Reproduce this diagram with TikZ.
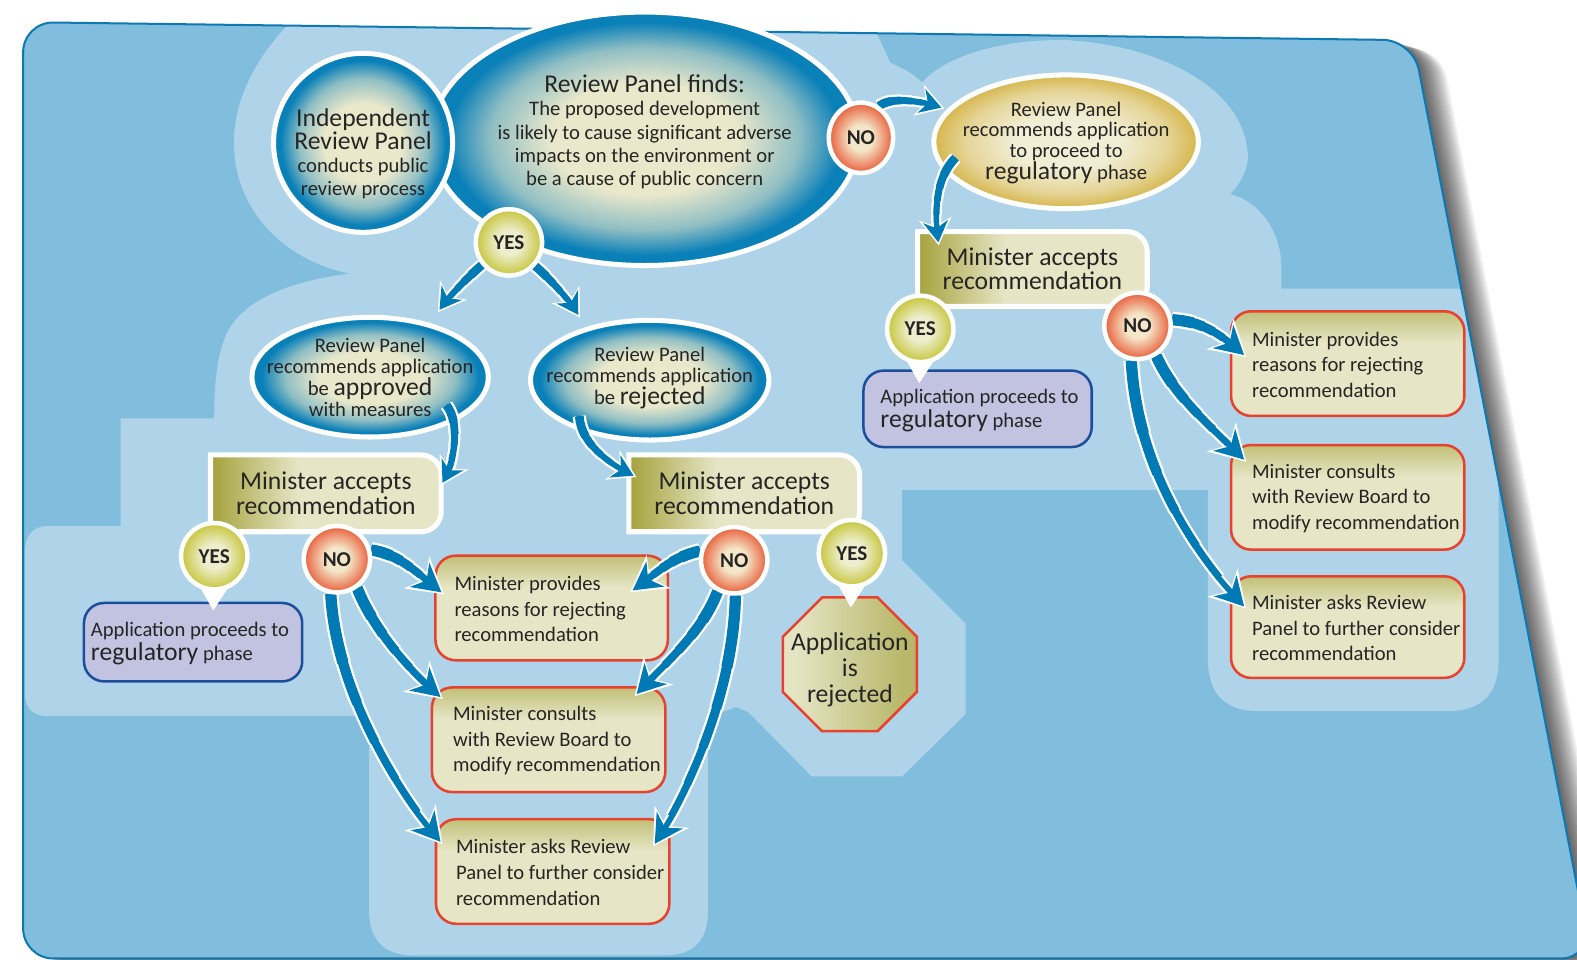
\documentclass[tikz,border=0pt]{standalone}
\usepackage{fontspec}
\setmainfont{Carlito}
\usetikzlibrary{shapes.geometric,arrows.meta,calc}
\newcommand\fsz[2]{\fontsize{#1}{#2}\selectfont}
\definecolor{panelblue}{HTML}{81BDDD}
\definecolor{lightblue}{HTML}{AFD4E9}
\definecolor{borderblue}{HTML}{0E78B2}
\definecolor{arrowblue}{HTML}{007AB4}
\definecolor{txtc}{HTML}{262524}
\definecolor{creamc}{HTML}{E6E5C5}
\definecolor{ballcream}{HTML}{E9E8CB}
\definecolor{blueedge}{HTML}{0A80B8}
\colorlet{bluemid}{blueedge!40!ballcream}
\definecolor{goldedge}{HTML}{D6B64C}
\definecolor{goldcream}{HTML}{F1EED5}
\colorlet{goldmid}{goldedge!45!goldcream}
\definecolor{yesedge}{HTML}{C6C53A}
\definecolor{yescream}{HTML}{EEEECF}
\definecolor{noedge}{HTML}{E85E3A}
\definecolor{nocream}{HTML}{F4E7C9}
\definecolor{oliveL}{HTML}{A5A23C}
\definecolor{oliveT}{HTML}{C1C078}
\definecolor{octL}{HTML}{E4E4C3}
\definecolor{octR}{HTML}{B8B76A}
\definecolor{redc}{HTML}{E8412D}
\definecolor{purpF}{HTML}{C1C3E0}
\definecolor{purpB}{HTML}{1D4E9C}
\pgfdeclareradialshading{blueball}{\pgfpoint{0bp}{0bp}}{color(0bp)=(ballcream); color(11bp)=(ballcream); color(18bp)=(bluemid); color(23bp)=(blueedge); color(25bp)=(blueedge); color(50bp)=(blueedge)}
\pgfdeclareradialshading{goldball}{\pgfpoint{0bp}{0bp}}{color(0bp)=(goldcream); color(10bp)=(goldcream); color(19bp)=(goldmid); color(25bp)=(goldedge); color(50bp)=(goldedge)}
\pgfdeclareradialshading{yesball}{\pgfpoint{0bp}{0bp}}{color(0bp)=(yescream); color(9bp)=(yescream); color(25bp)=(yesedge); color(50bp)=(yesedge)}
\pgfdeclareradialshading{noball}{\pgfpoint{0bp}{0bp}}{color(0bp)=(nocream); color(9bp)=(nocream); color(25bp)=(noedge); color(50bp)=(noedge)}
\pgfdeclarehorizontalshading{minacc}{100bp}{color(0bp)=(oliveL); color(25bp)=(oliveL); color(44bp)=(creamc); color(100bp)=(creamc)}
\pgfdeclareverticalshading{redsh}{100bp}{color(0bp)=(creamc); color(60bp)=(creamc); color(75bp)=(oliveT); color(100bp)=(oliveT)}
\pgfdeclarehorizontalshading{octsh}{100bp}{color(0bp)=(octL); color(30bp)=(octL); color(70bp)=(octR); color(100bp)=(octR)}
\pgfdeclarelayer{back}
\pgfdeclarelayer{shapes}
\pgfdeclarelayer{top}
\pgfsetlayers{back,shapes,main,top}
\newcommand\panelpath{(23,953) -- (23,22) -- (1405,40) -- (1582,953) -- cycle}
\newcommand\maShape[1]{\path[mashape] (#1.south west) -- (#1.north west) -- ($(#1.north east)+(-20,0)$) .. controls ($(#1.north east)+(-9,0)$) and ($(#1.north east)+(0,9)$) .. ($(#1.north east)+(0,20)$) -- ($(#1.south east)+(0,-20)$) .. controls ($(#1.south east)+(0,-9)$) and ($(#1.south east)+(-9,0)$) .. ($(#1.south east)+(-20,0)$) -- cycle;}
\newcommand\tail[1]{\fill[white] ($(#1.center)+(-14,31)$) -- ($(#1.center)+(14,31)$) -- ($(#1.center)+(-1,54)$) -- cycle;}
% tapered arrow: first part of the curve up to parameter #1, drawn in colour #2 with width factor #3 plus #4
\newcommand\tseg[4]{%
  \pgfmathsetmacro\ua{1-#1}%
  \pgfmathsetmacro\fa{\ua*\ua}\pgfmathsetmacro\fb{2*#1*\ua}\pgfmathsetmacro\fc{#1*#1}%
  \pgfmathsetmacro\ga{\ua*\ua*\ua}\pgfmathsetmacro\gb{3*#1*\ua*\ua}\pgfmathsetmacro\gc{3*#1*#1*\ua}\pgfmathsetmacro\gd{#1*#1*#1}%
  \coordinate (Q1) at ($(P0)!#1!(P1)$);
  \coordinate (Q2) at ($\fa*(P0)+\fb*(P1)+\fc*(P2)$);
  \coordinate (Q3) at ($\ga*(P0)+\gb*(P1)+\gc*(P2)+\gd*(P3)$);
  \pgfmathsetmacro\lw{\tbase*#3+#4}%
  \draw[#2, line width=\lw pt, line cap=butt] (P0) .. controls (Q1) and (Q2) .. (Q3);}
\newcommand\tsteps{0.85/1.2,0.7/1.4,0.55/1.6,0.4/1.8,0.25/2.0}
\newcommand\tarrow[5]{%
  \coordinate (P0) at #1; \coordinate (P3) at #4;
  \coordinate (P1) at ($(P0)+#2$); \coordinate (P2) at ($(P3)+#3$);
  \pgfmathsetmacro\lwf{\tbase+4.5}%
  \draw[flowbg#5, line width=\lwf pt] (P0) .. controls (P1) and (P2) .. (P3);
  \foreach \t/\w in \tsteps {\tseg{\t}{white}{\w}{4.5}}
  \draw[flow#5, line width=\tbase pt] (P0) .. controls (P1) and (P2) .. (P3);
  \foreach \t/\w in \tsteps {\tseg{\t}{arrowblue}{\w}{0}}}
\newcommand\bigarrow[4]{\def\tbase{5.6}\tarrow{#1}{#2}{#3}{#4}{B}}
\newcommand\smallarrow[4]{\def\tbase{4.3}\tarrow{#1}{#2}{#3}{#4}{S}}
\begin{document}
\begin{tikzpicture}[x=1pt,y=-1pt,
  lbl/.style={inner sep=0pt, align=center, text=txtc, font=\fsz{20.5}{23}},
  lblL/.style={lbl, align=left, anchor=west},
  ballB/.style={ellipse, draw=white, line width=5pt, inner sep=0pt, shade, shading=blueball},
  ballG/.style={ellipse, draw=white, line width=5pt, inner sep=0pt, shade, shading=goldball},
  yesn/.style={circle, draw=white, line width=4.5pt, inner sep=0pt, minimum size=66pt, shade, shading=yesball, text=txtc, font=\fsz{21}{21}\bfseries},
  non/.style={circle, draw=white, line width=4.5pt, inner sep=0pt, minimum size=66pt, shade, shading=noball, text=txtc, font=\fsz{21}{21}\bfseries},
  mabox/.style={rectangle, inner sep=0pt, align=center, text=txtc, font=\fsz{25.5}{24}, minimum width=229pt, minimum height=76pt},
  mashape/.style={draw=white, line width=5pt, shade, shading=minacc},
  redbox/.style={rectangle, rounded corners=20pt, draw=redc, line width=2.5pt, inner sep=0pt, shade, shading=redsh, minimum width=232pt, minimum height=104pt},
  purp/.style={rectangle, rounded corners=20pt, draw=purpB, line width=2.5pt, inner sep=0pt, fill=purpF},
  octo/.style={regular polygon, regular polygon sides=8, draw=redc, line width=2.5pt, inner sep=0pt, minimum size=144pt, shade, shading=octsh},
  flowB/.style={draw=arrowblue, -{Stealth[length=28pt,width=31pt,inset=9pt,line width=0pt]}},
  flowbgB/.style={draw=white, shorten >=-3pt, -{Stealth[length=35pt,width=41pt,inset=11pt,line width=0pt]}},
  flowS/.style={draw=arrowblue, -{Stealth[length=21pt,width=25pt,inset=7pt,line width=0pt]}},
  flowbgS/.style={draw=white, shorten >=-3pt, -{Stealth[length=27pt,width=33pt,inset=8pt,line width=0pt]}}
]
\useasboundingbox (0,0) rectangle (1568,954);
\begin{pgfonlayer}{back}
\fill[white] (0,0) rectangle (1568,954);
\foreach \k in {1,...,14}{\fill[black, opacity=0.06, rounded corners=30pt, shift={(2*\k,0.6*\k)}] \panelpath;}
\fill[panelblue, rounded corners=30pt] \panelpath;
\begin{scope}
\clip[rounded corners=30pt] \panelpath;
\fill[lightblue] (306,5) .. controls (245,60) and (222,120) .. (237,175)
 .. controls (250,225) and (295,262) .. (348,272)
 .. controls (285,280) and (238,300) .. (224,335)
 .. controls (214,360) and (213,390) .. (213,416)
 -- (120,416) -- (120,523)
 -- (48,523) .. controls (33,523) and (25,532) .. (25,547)
 -- (25,690) .. controls (25,705) and (33,712) .. (48,712)
 -- (367,712) -- (367,905) .. controls (367,935) and (382,950) .. (412,950)
 -- (660,950) .. controls (690,950) and (704,935) .. (704,905)
 -- (704,713) -- (732,703) -- (744,708) -- (807,772) -- (897,772) -- (960,710) -- (960,620) -- (897,557) -- (897,487)
 -- (1201,487) -- (1201,655) .. controls (1201,690) and (1218,707) .. (1251,707)
 -- (1440,707) .. controls (1473,707) and (1490,690) .. (1490,657)
 -- (1490,330) .. controls (1490,302) and (1475,287) .. (1447,287)
 -- (1274,287) -- (1274,262) .. controls (1272,228) and (1252,200) .. (1223,193)
 .. controls (1238,178) and (1243,160) .. (1240,147)
 .. controls (1232,85) and (1150,45) .. (1062,40)
 .. controls (1000,38) and (940,55) .. (917,82)
 .. controls (905,70) and (892,66) .. (885,62)
 -- (859,5) -- cycle;
\end{scope}
\draw[borderblue, line width=2pt, rounded corners=30pt] \panelpath;
\end{pgfonlayer}

% ellipses and circles with text
\node[ballB, minimum width=426pt, minimum height=252pt] (find) at (641,138) {};
\node[lbl] (findT) at (641,131) {{\fsz{25.5}{23}Review Panel finds:}\\The proposed development\\is likely to cause significant adverse\\impacts on the environment or\\be a cause of public concern};
\node[ballB, circle, minimum size=178pt] (ind) at (361,142) {};
\node[lbl] (indT) at (361,153) {{\fsz{25.5}{26}Independent}\\{\fsz{25.5}{26}Review Panel}\\conducts public\\review process};
\node[ballG, minimum width=263pt, minimum height=133pt] (yel) at (1060,141) {};
\node[lbl, font=\fsz{20.5}{20.5}] (yelT) at (1060,142) {Review Panel\\recommends application\\to proceed to\\{\fsz{25.5}{23}regulatory} phase};
\node[ballB, minimum width=235pt, minimum height=119pt] (apr) at (368,375) {};
\node[lbl, font=\fsz{20.5}{21}] (aprT) at (368,375) {Review Panel\\recommends application\\be {\fsz{25.5}{21}approved}\\with measures};
\node[ballB, minimum width=237pt, minimum height=119pt] (rej) at (646,378) {};
\node[lbl, font=\fsz{20.5}{21}] (rejT) at (646,376) {Review Panel\\recommends application\\be {\fsz{25.5}{21}rejected}};

% minister accepts boxes
\node[mabox] (ma1) at (324,490.5) {Minister accepts\\recommendation};
\node[mabox] (ma2) at (740,490.5) {Minister accepts\\recommendation};
\node[mabox, minimum width=228pt, minimum height=74pt] (ma3) at (1026.5,267.5) {Minister accepts\\recommendation};
\begin{pgfonlayer}{shapes}
\maShape{ma1}
\maShape{ma2}
\maShape{ma3}
\end{pgfonlayer}

% purple boxes
\node[purp, minimum width=217pt, minimum height=78pt] (pb1) at (192,638.5) {};
\node[lblL, font=\fsz{20.5}{24}] (pb1T) at ($(pb1.west)+(8,1)$) {Application proceeds to\\{\fsz{25.5}{24}regulatory} phase};
\node[purp, minimum width=227pt, minimum height=76pt] (pb2) at (972,406.5) {};
\node[lblL, font=\fsz{20.5}{24}] (pb2T) at ($(pb2.west)+(18,2)$) {Application proceeds to\\{\fsz{25.5}{24}regulatory} phase};

% red boxes
\node[redbox, minimum width=231pt] (mb1) at (548.5,604.5) {};
\node[lblL, font=\fsz{20.5}{25.5}] (mb1T) at ($(mb1.west)+(20,1)$) {Minister provides\\reasons for rejecting\\recommendation};
\node[redbox] (mb2) at (545.5,735.5) {};
\node[lblL, font=\fsz{20.5}{25.5}] (mb2T) at ($(mb2.west)+(22,1)$) {Minister consults\\with Review Board to\\modify recommendation};
\node[redbox] (mb3) at (549.5,866.5) {};
\node[lblL, font=\fsz{20.5}{25.5}] (mb3T) at ($(mb3.west)+(21,1)$) {Minister asks Review\\Panel to further consider\\recommendation};
\node[redbox] (rb1) at (1340,361.5) {};
\node[lblL, font=\fsz{20.5}{25.5}] (rb1T) at ($(rb1.west)+(22,1)$) {Minister provides\\reasons for rejecting\\recommendation};
\node[redbox] (rb2) at (1340,494.5) {};
\node[lblL, font=\fsz{20.5}{25.5}] (rb2T) at ($(rb2.west)+(22,1)$) {Minister consults\\with Review Board to\\modify recommendation};
\node[redbox, minimum height=101pt] (rb3) at (1340,623.5) {};
\node[lblL, font=\fsz{20.5}{25.5}] (rb3T) at ($(rb3.west)+(22,1)$) {Minister asks Review\\Panel to further consider\\recommendation};

% octagon
\node[octo] (oct) at (845,660.5) {};
\node[lbl, font=\fsz{25.5}{25.5}] (octT) at (845,666) {Application\\is\\rejected};

% YES / NO circles
\begin{pgfonlayer}{top}
\node[yesn] (yes0) at (506,241) {YES};
\node[non, ellipse, minimum width=64pt, minimum height=70pt] (no0) at (856,137) {NO};
\node[yesn] (yes1) at (213,553) {YES};
\node[non] (no1) at (335,556) {NO};
\node[non] (no2) at (730,557) {NO};
\node[yesn] (yes2) at (847,550) {YES};
\node[yesn] (yes3) at (915,327) {YES};
\node[non] (no3) at (1131,324) {NO};
\tail{yes1}
\tail{yes2}
\tail{yes3}
\end{pgfonlayer}

% arrow tips
\coordinate (tYa) at (437,308);
\coordinate (tYb) at (575,313);
\coordinate (tA) at (440,480);
\coordinate (tR) at (630,473);
\coordinate (tN) at (936,107);
\coordinate (tM) at (933,241);
\coordinate (t11) at (439,589);
\coordinate (t12) at (438,693);
\coordinate (t13) at (438,837);
\coordinate (t21) at (629,587);
\coordinate (t22) at (633,690);
\coordinate (t23) at (651,839);
\coordinate (t31) at (1237,353);
\coordinate (t32) at (1237,457);
\coordinate (t33) at (1237,603);

\smallarrow{(yes0.-140)}{(-14,12)}{(10,-14)}{(tYa)}
\smallarrow{(yes0.-42)}{(14,12)}{(-10,-16)}{(tYb)}
\smallarrow{($(apr.center)+(76,28)$)}{(14,18)}{(12,-22)}{(tA)}
\smallarrow{($(rej.center)+(-70,36)$)}{(2,28)}{(-24,-12)}{(tR)}
\smallarrow{(no0.60)}{(12,-10)}{(-18,-6)}{(tN)}
\smallarrow{($(yel.center)+(-110,16)$)}{(-20,20)}{(-4,-30)}{(tM)}

\bigarrow{(no1.15)}{(28,4)}{(-25,-20)}{(t11)}
\bigarrow{(no1.-55)}{(15,38)}{(-35,-30)}{(t12)}
\bigarrow{(no1.-100)}{(5,90)}{(-50,-60)}{(t13)}
\bigarrow{(no2.165)}{(-28,6)}{(25,-18)}{(t21)}
\bigarrow{(no2.-118)}{(-15,40)}{(30,-32)}{(t22)}
\bigarrow{(no2.-88)}{(-2,95)}{(35,-55)}{(t23)}
\bigarrow{(no3.10)}{(30,2)}{(-25,-22)}{(t31)}
\bigarrow{(no3.-58)}{(18,40)}{(-35,-35)}{(t32)}
\bigarrow{(no3.-100)}{(5,100)}{(-55,-60)}{(t33)}
\end{tikzpicture}
\end{document}
